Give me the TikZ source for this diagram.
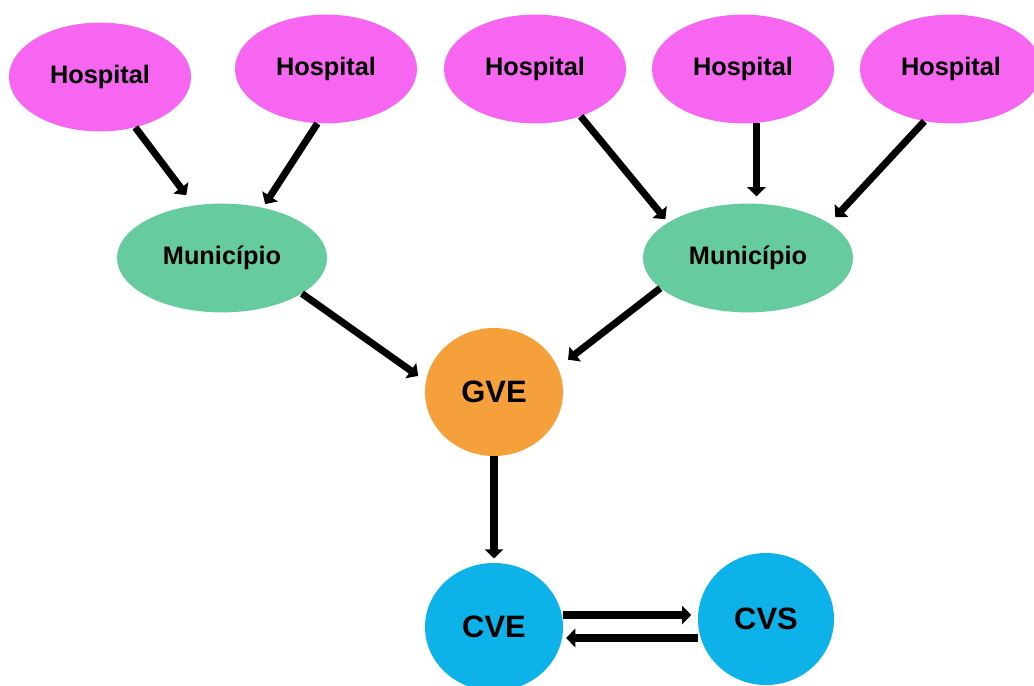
\documentclass[tikz,border=0pt]{standalone}
\usepackage{fontspec}
\setmainfont{Liberation Sans}
\usetikzlibrary{arrows.meta, shapes.geometric}
\definecolor{hospitalpink}{RGB}{246,102,240}
\definecolor{municgreen}{RGB}{102,204,160}
\definecolor{gveorange}{RGB}{246,160,60}
\definecolor{cveblue}{RGB}{13,178,232}

\begin{document}
\begin{tikzpicture}[x=0.025cm, y=-0.025cm,
    hospital/.style={ellipse, fill=hospitalpink, minimum width=4.55cm, minimum height=2.72cm, font=\fontsize{18}{20}\selectfont\bfseries},
    municipio/.style={ellipse, fill=municgreen, minimum width=5.25cm, minimum height=2.72cm, font=\fontsize{18}{20}\selectfont\bfseries},
    centro/.style={ellipse, minimum width=3.45cm, minimum height=3.2cm, font=\fontsize{22}{24}\selectfont\bfseries},
    flow/.style={line width=5pt, -{Triangle[length=6.5pt, width=13pt]}}]
\useasboundingbox (0,0) rectangle (1034,685);

% hospitals
\node[hospital] (h1) at (100,77) {Hospital};
\node[hospital] (h2) at (326,69) {Hospital};
\node[hospital] (h3) at (535,69) {Hospital};
\node[hospital] (h4) at (743,69) {Hospital};
\node[hospital] (h5) at (951,69) {Hospital};

% municipalities
\node[municipio] (m1) at (222,258) {Município};
\node[municipio] (m2) at (748,258) {Município};

% centres
\node[centro, fill=gveorange] (gve) at (494,392) {GVE};
\node[centro, fill=cveblue] (cve) at (494,627) {CVE};
\node[centro, fill=cveblue, minimum width=3.4cm, minimum height=3.3cm] (cvs) at (766,619) {CVS};

\draw[flow, shorten >=9pt] (h1.-55) -- (m1.118);
\draw[flow, shorten >=3pt] (h2.-99) -- (m1.51);
\draw[flow, shorten >=3pt] (h3.-46) -- (m2.156);
\draw[flow, shorten >=5pt] (h4.-76) -- (h4.-76 |- m2.north);
\draw[flow, shorten >=6pt] (h5.-117) -- (m2.23);

\draw[flow, shorten >=6.5pt] (m1.-24) -- (gve.171);
\draw[flow, shorten >=9pt] (m2.-161) -- (gve.21);
\draw[flow, shorten >=3pt] (gve.south) -- (cve.north);

\draw[flow, shorten >=4.6pt] ([yshift=0.3cm]cve.east) -- ([yshift=0.3cm]cve.east -| cvs.west);
\draw[flow, shorten >=2pt] ([yshift=-0.475cm]cvs.west) -- ([yshift=-0.475cm]cvs.west -| cve.east);

\end{tikzpicture}
\end{document}
